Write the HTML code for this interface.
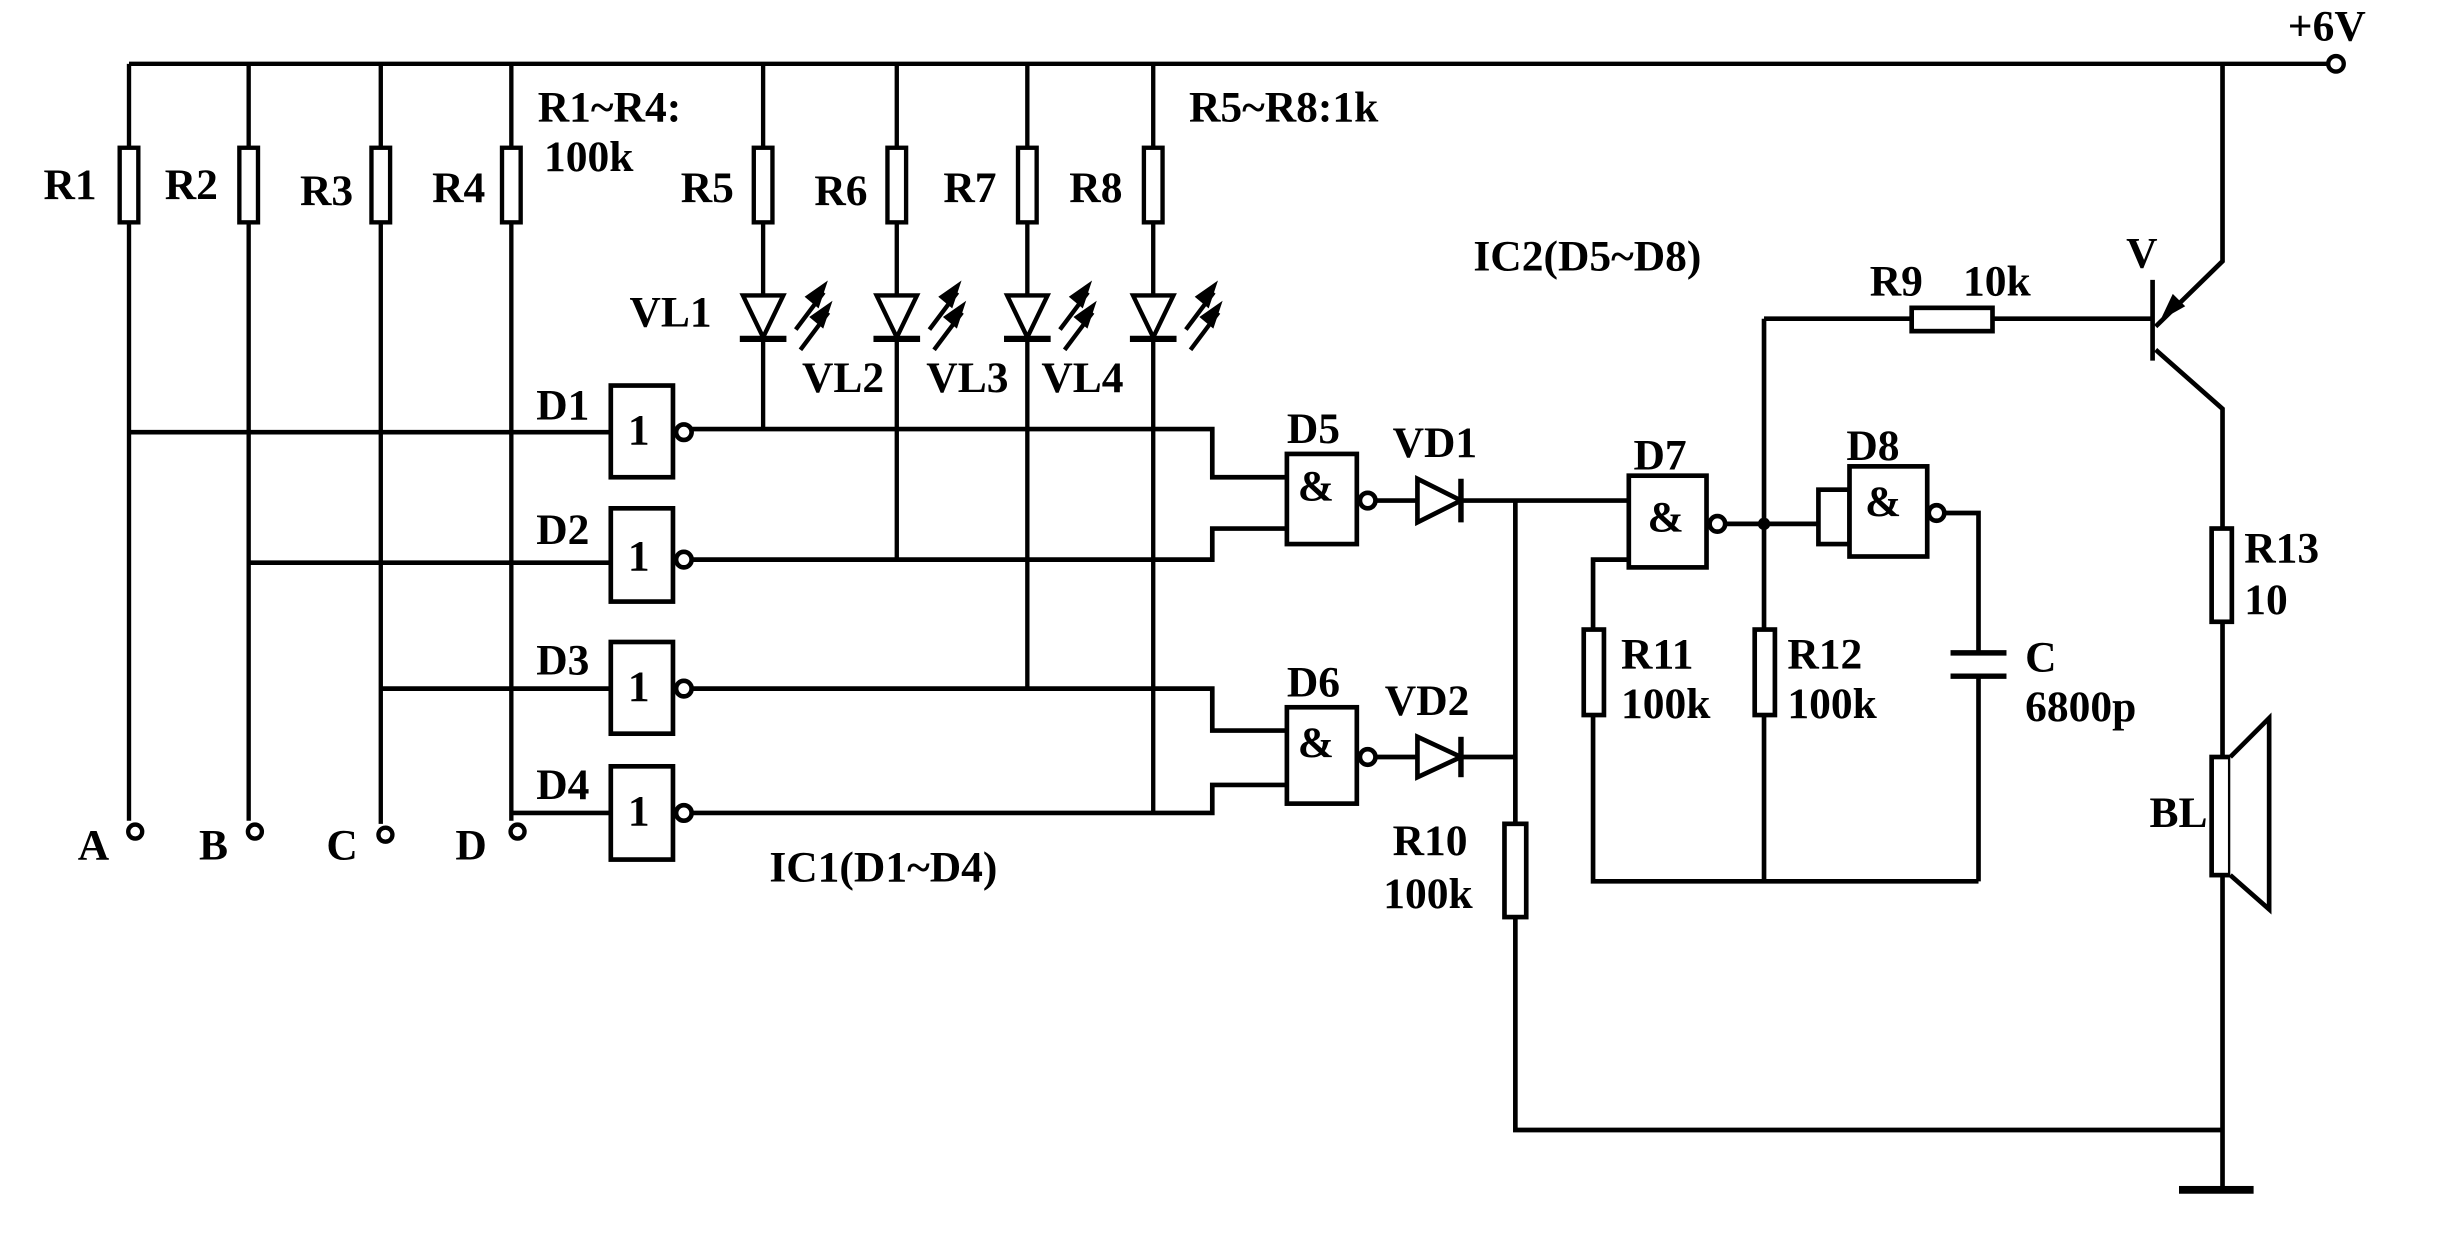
<!DOCTYPE html>
<html><head><meta charset="utf-8"><style>
html,body{margin:0;padding:0;background:#fff}
svg{display:block}
text{font-family:"Liberation Serif",serif;font-size:28px;font-weight:bold;fill:#000}
</style></head><body>
<svg width="2437" height="1256" viewBox="0 0 1568 808" xmlns="http://www.w3.org/2000/svg">
<g stroke="#000" stroke-width="2.8" fill="none">
<line x1="83" y1="41" x2="1498" y2="41"/>
<circle cx="1503" cy="41" r="5"/>
<line x1="83" y1="41" x2="83" y2="528"/>
<line x1="160" y1="41" x2="160" y2="528"/>
<line x1="245" y1="41" x2="245" y2="530"/>
<line x1="329" y1="41" x2="329" y2="528"/>
<circle cx="87" cy="535" r="4.5"/><circle cx="164" cy="535" r="4.5"/><circle cx="248" cy="537" r="4.5"/><circle cx="333" cy="535" r="4.5"/>
<line x1="491" y1="41" x2="491" y2="275"/>
<line x1="577" y1="41" x2="577" y2="360"/>
<line x1="661" y1="41" x2="661" y2="443"/>
<line x1="742" y1="41" x2="742" y2="523"/>
</g>
<g stroke="#000" stroke-width="2.8" fill="#fff">
<rect x="77" y="95" width="12" height="48"/><rect x="154" y="95" width="12" height="48"/>
<rect x="239" y="95" width="12" height="48"/><rect x="323" y="95" width="12" height="48"/>
<rect x="485" y="95" width="12" height="48"/><rect x="571" y="95" width="12" height="48"/>
<rect x="655" y="95" width="12" height="48"/><rect x="736" y="95" width="12" height="48"/>
</g>
<g stroke="#000" stroke-width="2.8" fill="#fff">
<polygon points="478,190 504,190 491,217"/><polygon points="564,190 590,190 577,217"/>
<polygon points="648,190 674,190 661,217"/><polygon points="729,190 755,190 742,217"/>
</g>
<g stroke="#000" stroke-width="4">
<line x1="476" y1="218" x2="506" y2="218"/><line x1="562" y1="218" x2="592" y2="218"/>
<line x1="646" y1="218" x2="676" y2="218"/><line x1="727" y1="218" x2="757" y2="218"/>
</g>
<g stroke="#000" stroke-width="2.8" fill="#000">
<g id="arr"><line x1="512" y1="212" x2="530" y2="188"/><polygon points="530,184 526,196 520,191"/><line x1="515" y1="225" x2="533" y2="201"/><polygon points="533,197 529,209 523,204"/></g>
<use href="#arr" x="86"/><use href="#arr" x="170"/><use href="#arr" x="251"/>
</g>
<g stroke="#000" stroke-width="3" fill="none">
<line x1="83" y1="278" x2="393" y2="278"/>
<line x1="160" y1="362" x2="393" y2="362"/>
<line x1="245" y1="443" x2="393" y2="443"/>
<line x1="329" y1="523" x2="393" y2="523"/>
<polyline points="445,276 780,276 780,307 828,307"/>
<polyline points="445,360 780,360 780,340 828,340"/>
<polyline points="445,443 780,443 780,470 828,470"/>
<polyline points="445,523 780,523 780,505 828,505"/>
<line x1="885" y1="322" x2="1048" y2="322"/>
<line x1="885" y1="487" x2="975" y2="487"/>
<polyline points="975,322 975,727 1430,727"/>
<polyline points="1048,360 1025,360 1025,567 1273,567"/>
<polyline points="1135,205 1135,567"/>
<line x1="1110" y1="337" x2="1170" y2="337"/>
<rect x="1170" y="315" width="20" height="35"/>
<polyline points="1251,330 1273,330 1273,420"/>
<line x1="1273" y1="435" x2="1273" y2="567"/>
<line x1="1135" y1="205" x2="1385" y2="205"/>
<line x1="1385" y1="180" x2="1385" y2="232"/>
<polyline points="1387,210 1430,168 1430,41"/>
<polyline points="1387,225 1430,263 1430,765"/>
</g>
<polygon points="1390,206 1398,189 1406,197" fill="#000"/>
<g stroke="#000" stroke-width="3" fill="#fff">
<rect x="393" y="248" width="40" height="59"/><rect x="393" y="327" width="40" height="60"/>
<rect x="393" y="413" width="40" height="59"/><rect x="393" y="493" width="40" height="60"/>
<circle cx="440" cy="278" r="5"/><circle cx="440" cy="360" r="5"/><circle cx="440" cy="443" r="5"/><circle cx="440" cy="523" r="5"/>
<rect x="828" y="292" width="45" height="58"/><rect x="828" y="455" width="45" height="62"/>
<circle cx="880" cy="322" r="5"/><circle cx="880" cy="487" r="5"/>
<rect x="1048" y="306" width="50" height="59"/><circle cx="1105" cy="337" r="5"/>
<rect x="1190" y="300" width="50" height="58"/><circle cx="1246" cy="330" r="5"/>
<polygon points="912,308 912,336 940,322"/><polygon points="912,474 912,500 940,487"/>
<rect x="968" y="530" width="14" height="60"/>
<rect x="1019" y="405" width="13" height="55"/><rect x="1129" y="405" width="13" height="55"/>
<rect x="1230" y="198" width="52" height="15"/>
<rect x="1423" y="340" width="13" height="60"/>
<rect x="1423" y="487" width="12" height="76"/>
<polyline points="1435,487 1460,462 1460,585 1435,563"/>
</g>
<g stroke="#000" stroke-width="3.5">
<line x1="940" y1="308" x2="940" y2="336"/><line x1="940" y1="474" x2="940" y2="500"/>
<line x1="1255" y1="420" x2="1291" y2="420"/><line x1="1255" y1="435" x2="1291" y2="435"/>
</g>
<rect x="1402" y="763" width="48" height="5" fill="#000"/>
<circle cx="1135" cy="337" r="4" fill="#000"/>
<text x="404" y="286">1</text><text x="404" y="367">1</text><text x="404" y="451">1</text><text x="404" y="531">1</text>
<text x="835" y="322">&amp;</text><text x="835" y="487">&amp;</text>
<text x="1060" y="342">&amp;</text><text x="1200" y="332">&amp;</text>
<text x="1472" y="26">+6V</text>
<text x="28" y="128">R1</text><text x="106" y="128">R2</text><text x="193" y="132">R3</text><text x="278" y="130">R4</text>
<text x="346" y="78">R1~R4:</text><text x="350" y="110">100k</text>
<text x="438" y="130">R5</text><text x="524" y="132">R6</text><text x="607" y="130">R7</text><text x="688" y="130">R8</text>
<text x="765" y="78">R5~R8:1k</text>
<text x="405" y="210">VL1</text><text x="516" y="252">VL2</text><text x="596" y="252">VL3</text><text x="670" y="252">VL4</text>
<text x="345" y="270">D1</text><text x="345" y="350">D2</text><text x="345" y="434">D3</text><text x="345" y="514">D4</text>
<text x="50" y="553">A</text><text x="128" y="553">B</text><text x="210" y="553">C</text><text x="293" y="553">D</text>
<text x="495" y="567">IC1(D1~D4)</text>
<text x="828" y="285">D5</text><text x="896" y="294">VD1</text>
<text x="828" y="448">D6</text><text x="891" y="460">VD2</text>
<text x="1051" y="302">D7</text><text x="1188" y="296">D8</text>
<text x="948" y="174">IC2(D5~D8)</text>
<text x="1203" y="190">R9</text><text x="1263" y="190">10k</text>
<text x="1368" y="172">V</text>
<text x="896" y="550">R10</text><text x="890" y="584">100k</text>
<text x="1043" y="430">R11</text><text x="1043" y="462">100k</text>
<text x="1150" y="430">R12</text><text x="1150" y="462">100k</text>
<text x="1303" y="432">C</text><text x="1303" y="464">6800p</text>
<text x="1444" y="362">R13</text><text x="1444" y="395">10</text>
<text x="1383" y="532">BL</text>
</svg>
</body></html>
